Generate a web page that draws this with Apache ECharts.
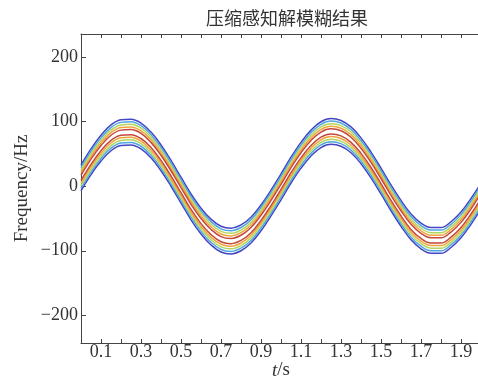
<!DOCTYPE html>
<html><head><meta charset="utf-8">
<script src="https://cdn.jsdelivr.net/npm/echarts@6/dist/echarts.min.js"></script>
<style>html,body{margin:0;padding:0;background:#fff}#c{width:478px;height:379px}</style>
</head><body><div id="c"></div>
<script>
// Time samples (s)
const timeS = [0.00,0.05,0.10,0.15,0.20,0.25,0.30,0.35,0.40,0.45,0.50,0.55,0.60,0.65,0.70,0.75,0.80,0.85,0.90,0.95,1.00,
               1.05,1.10,1.15,1.20,1.25,1.30,1.35,1.40,1.45,1.50,1.55,1.60,1.65,1.70,1.75,1.80,1.85,1.90,1.95,2.00];
// Ridge (centre) of the deblurred frequency track (Hz)
const ridgeHz = [13,38,59,75,83,84,78,64,44,20,-6,-32,-54,-71,-82,-85,-80,-68,-49,-26,-1,
                 25,48,67,80,85,82,72,55,33,8,-18,-42,-63,-77,-84,-84,-75,-60,-39,-15];
// Contour-level offsets from the ridge (Hz), outer to inner
const levelOffsets = [20,16,12,8,4];
const levelColors = ['#4444c4','#4ea6e2','#b4d65c','#f0a43c','#c4483a'];
const xTickValues = [0.1,0.3,0.5,0.7,0.9,1.1,1.3,1.5,1.7,1.9];
const xMinorTicks = [0.1,0.2,0.3,0.4,0.5,0.6,0.7,0.8,0.9,1.0,1.1,1.2,1.3,1.4,1.5,1.6,1.7,1.8,1.9];
const yTicks = [-200,-100,0,100,200];
const titleText = '压缩感知解模糊结果';

const series = [];
levelOffsets.forEach((off, i) => {
  [off, -off].forEach(sign => {
    series.push({
      type: 'line', showSymbol: false, smooth: 0.4, silent: true,
      lineStyle: {color: levelColors[i], width: 1.5},
      data: timeS.map((t, k) => [t, ridgeHz[k] + sign])
    });
  });
});

const serif = 'Liberation Serif';
const axisColor = '#444';
const chart = echarts.init(document.getElementById('c'), null, {renderer: 'canvas'});
chart.setOption({
  animation: false,
  backgroundColor: '#fff',
  title: {text: titleText, left: 282, top: 4, textAlign: 'center',
    textStyle: {fontFamily: 'Noto Sans CJK SC', fontSize: 18, fontWeight: 'normal', color: '#333'}},
  grid: {left: 81, right: -3, top: 34, bottom: 36, containLabel: false, outerBoundsMode: 'none'},
  xAxis: [{
    type: 'value', min: 0, max: 2, position: 'bottom',
    name: '{i|t}/s', nameLocation: 'middle', nameGap: 18, nameMoveOverlap: false,
    nameTextStyle: {fontFamily: serif, fontSize: 19, color: '#333',
      rich: {i: {fontFamily: serif, fontSize: 19, fontStyle: 'italic', color: '#333'}}},
    axisLine: {show: true, onZero: false, lineStyle: {color: axisColor, width: 1}},
    axisTick: {show: true, inside: true, length: 4, customValues: xMinorTicks, lineStyle: {color: axisColor}},
    axisLabel: {margin: 0, fontFamily: serif, fontSize: 18, color: '#333',
      customValues: xTickValues, formatter: v => v.toFixed(1)},
    splitLine: {show: false}
  }, {
    type: 'value', min: 0, max: 2, position: 'top',
    axisLine: {show: true, onZero: false, lineStyle: {color: axisColor, width: 1}},
    axisTick: {show: true, inside: true, length: 4, customValues: xMinorTicks, lineStyle: {color: axisColor}},
    axisLabel: {show: false}, splitLine: {show: false}
  }],
  yAxis: {
    type: 'value', min: -243, max: 236,
    name: 'Frequency/Hz', nameLocation: 'middle', nameGap: 49, nameRotate: 90, nameMoveOverlap: false,
    nameTextStyle: {fontFamily: serif, fontSize: 19, color: '#333'},
    axisLine: {show: true, onZero: false, lineStyle: {color: axisColor, width: 1}},
    axisTick: {show: true, inside: true, length: 5, customValues: yTicks, lineStyle: {color: axisColor}},
    axisLabel: {margin: 3, fontFamily: serif, fontSize: 18, color: '#333',
      customValues: yTicks, formatter: v => String(v).replace('-', '\u2212')},
    splitLine: {show: false}
  },
  series: series
});
</script></body></html>
